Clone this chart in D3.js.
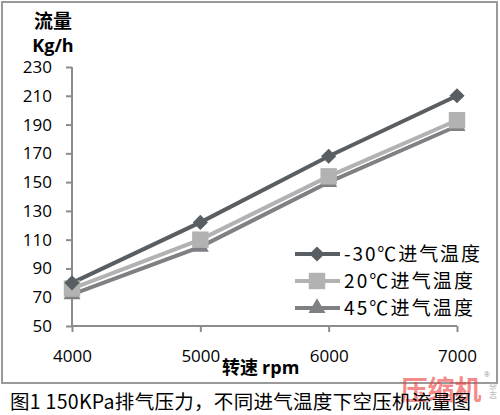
<!DOCTYPE html>
<html><head><meta charset="utf-8">
<script src="https://cdn.jsdelivr.net/npm/d3@7/dist/d3.min.js"></script>
<style>body{margin:0;background:#fff}svg{display:block}</style>
</head><body>
<script>
const rpm = [4000, 5000, 6000, 7000];
const seriesNames = ["-30℃进气温度", "20℃进气温度", "45℃进气温度"];
const sMinus30 = [80, 122, 168, 210];
const s20 = [76, 110, 154, 193];
const s45 = [72, 105, 150, 189];
const yTicks = [50, 70, 90, 110, 130, 150, 170, 190, 210, 230];
const xTicks = [4000, 5000, 6000, 7000];
const caption = "图1 150KPa排气压力，不同进气温度下空压机流量图";

const W = 500, H = 415;
const svg = d3.select("body").append("svg").attr("width", W).attr("height", H);
const font = "'Open Sans','Liberation Sans',sans-serif";
const cjk = "'Noto Sans CJK SC',sans-serif";

svg.append("rect").attr("x", 2).attr("y", 2).attr("width", 495).attr("height", 381)
  .attr("fill", "none").attr("stroke", "#9a9a9a").attr("stroke-width", 2);

const x = d3.scaleLinear().domain([4000, 7000]).range([72, 457]);
const y = d3.scaleLinear().domain([50, 230]).range([326, 67]);

// axes
const yAxis = svg.append("g").attr("transform", "translate(72,0)")
  .call(d3.axisLeft(y).tickValues(yTicks).tickSize(6).tickPadding(14));
const xAxis = svg.append("g").attr("transform", "translate(0,326)")
  .call(d3.axisBottom(x).tickValues(xTicks).tickSize(6).tickPadding(18).tickFormat(d3.format("d")));
[yAxis, xAxis].forEach(g => {
  g.selectAll("path,line").attr("stroke", "#8c8c8c").attr("stroke-width", 2);
  g.selectAll("text").attr("font-family", font).attr("font-size", 17).attr("fill", "#000");
});
yAxis.select(".domain").attr("d", "M0,67V326");
xAxis.select(".domain").attr("d", "M72,0H457");

// axis titles
svg.append("text").attr("x", 53).attr("y", 28).attr("text-anchor", "middle")
  .attr("font-family", cjk).attr("font-weight", "bold").attr("font-size", 19).text("流量");
svg.append("text").attr("x", 53).attr("y", 52).attr("text-anchor", "middle")
  .attr("font-family", font).attr("font-weight", "bold").attr("font-size", 18).text("Kg/h");
svg.append("text").attr("x", 222).attr("y", 374)
  .attr("font-family", font).attr("font-weight", "bold").attr("font-size", 18)
  .call(t => { t.append("tspan").attr("font-family", cjk).text("转速 "); t.append("tspan").text("rpm"); });

const series = [
  {name: seriesNames[0], values: sMinus30, color: "#585e62", marker: d3.symbolSquare, size: 115, rot: 45, tl: 136},
  {name: seriesNames[1], values: s20, color: "#b2b2b2", marker: d3.symbolSquare, size: 270, rot: 0, tl: 129},
  {name: seriesNames[2], values: s45, color: "#7e8083", marker: d3.symbolTriangle, size: 125, rot: 0, tl: 129}
];

const line = d3.line().x((d, i) => x(rpm[i])).y(d => y(d));
[...series].reverse().forEach(s => {
  svg.append("path").attr("d", line(s.values)).attr("fill", "none")
    .attr("stroke", "#fff").attr("stroke-width", 6.5);
  svg.append("path").attr("d", line(s.values)).attr("fill", "none")
    .attr("stroke", s.color).attr("stroke-width", 4);
});
[...series].reverse().forEach(s => {
  svg.selectAll(null).data(s.values).enter().append("path")
    .attr("d", d3.symbol().type(s.marker).size(s.size))
    .attr("transform", (d, i) => `translate(${x(rpm[i])},${y(d)}) rotate(${s.rot})`)
    .attr("fill", s.color);
});

// legend
const leg = svg.append("g");
series.forEach((s, i) => {
  const ly = 254 + i * 27;
  leg.append("line").attr("x1", 295).attr("x2", 340).attr("y1", ly).attr("y2", ly)
    .attr("stroke", s.color).attr("stroke-width", 4);
  leg.append("path").attr("d", d3.symbol().type(s.marker).size(s.size))
    .attr("transform", `translate(317,${ly}) rotate(${s.rot})`).attr("fill", s.color);
  leg.append("text").attr("x", 344).attr("y", ly + 7)
    .attr("font-family", cjk).attr("font-size", 19).attr("fill", "#000")
    .attr("textLength", s.tl).attr("lengthAdjust", "spacing").text(s.name);
});

// watermark
svg.append("text").attr("x", 441).attr("y", 400).attr("text-anchor", "middle")
  .attr("font-family", cjk).attr("font-weight", "bold").attr("font-size", 27)
  .attr("fill", "#ee3b3b").attr("fill-opacity", 0.6).text("压缩机");
svg.append("text").attr("x", 484).attr("y", 377).attr("font-family", font)
  .attr("font-size", 7).attr("fill", "#999").text("®");
svg.append("text").attr("x", 493).attr("y", 389).attr("text-anchor", "middle")
  .attr("font-family", cjk).attr("font-size", 8).attr("fill", "#aaa").text("杂");
svg.append("text").attr("x", 493).attr("y", 398).attr("text-anchor", "middle")
  .attr("font-family", cjk).attr("font-size", 8).attr("fill", "#aaa").text("志");

// caption
svg.append("text").attr("x", 10).attr("y", 409)
  .attr("font-family", cjk).attr("font-size", 19.5).attr("letter-spacing", 0.3).attr("fill", "#000")
  .text(caption);
</script>
</body></html>
